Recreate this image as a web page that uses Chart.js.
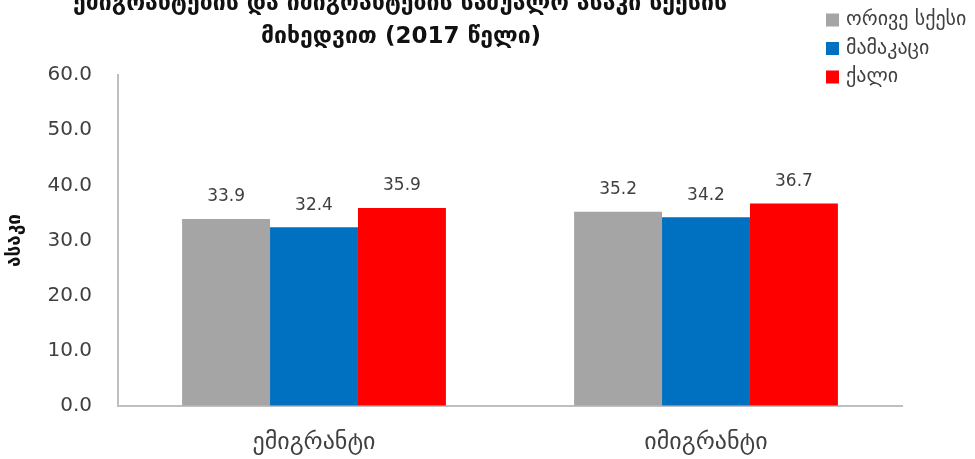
<!DOCTYPE html>
<html>
<head>
<meta charset="utf-8">
<script src="https://cdn.jsdelivr.net/npm/chart.js@4"></script>
<style>
  html, body { margin: 0; padding: 0; background: #ffffff; }
  #wrap { position: relative; width: 975px; height: 459px; }
</style>
</head>
<body>
<div id="wrap"><canvas id="c" width="975" height="459"></canvas></div>
<script>
const titleLines = ['ემიგრანტების და იმიგრანტების საშუალო ასაკი სქესის', 'მიხედვით (2017 წელი)'];
const yAxisTitle = 'ასაკი';
const categories = ['ემიგრანტი', 'იმიგრანტი'];
const seriesNames = ['ორივე სქესი', 'მამაკაცი', 'ქალი'];
const bothSexes = [33.9, 35.2];
const males = [32.4, 34.2];
const females = [35.9, 36.7];
const yTicks = [0, 10, 20, 30, 40, 50, 60];
const colors = ['#A5A5A5', '#0070C0', '#FF0000'];

const FONT = '"DejaVu Sans", "Noto Sans", sans-serif';
const TEXT = '#404040';

const titlePlugin = {
  id: 'customTitle',
  afterDraw(chart) {
    const ctx = chart.ctx;
    ctx.save();
    ctx.font = 'bold 23px ' + FONT;
    ctx.fillStyle = '#111111';
    ctx.textAlign = 'center';
    ctx.textBaseline = 'middle';
    ctx.fillText(titleLines[0], 400, 4);
    ctx.fillText(titleLines[1], 401, 37);
    ctx.restore();
  }
};

const legendPlugin = {
  id: 'customLegend',
  afterDraw(chart) {
    const ctx = chart.ctx;
    ctx.save();
    ctx.font = '20px ' + FONT;
    ctx.textAlign = 'left';
    ctx.textBaseline = 'middle';
    chart.data.datasets.forEach((ds, i) => {
      const cy = 20 + i * 28.5;
      ctx.fillStyle = ds.backgroundColor;
      ctx.fillRect(826, cy - 6.5, 13, 13);
      ctx.fillStyle = TEXT;
      ctx.fillText(ds.label, 846, cy);
    });
    ctx.restore();
  }
};

const valueLabels = {
  id: 'valueLabels',
  afterDatasetsDraw(chart) {
    const ctx = chart.ctx;
    ctx.save();
    ctx.font = '17px ' + FONT;
    ctx.fillStyle = TEXT;
    ctx.textAlign = 'center';
    ctx.textBaseline = 'middle';
    chart.data.datasets.forEach((ds, i) => {
      const meta = chart.getDatasetMeta(i);
      meta.data.forEach((bar, j) => {
        ctx.fillText(ds.data[j].toFixed(1), bar.x, bar.y - 22);
      });
    });
    ctx.restore();
  }
};

new Chart(document.getElementById('c'), {
  type: 'bar',
  data: {
    labels: categories,
    datasets: [
      { label: seriesNames[0], data: bothSexes, backgroundColor: colors[0] },
      { label: seriesNames[1], data: males, backgroundColor: colors[1] },
      { label: seriesNames[2], data: females, backgroundColor: colors[2] }
    ]
  },
  options: {
    responsive: false,
    animation: false,
    devicePixelRatio: 1,
    layout: { padding: { top: 75, right: 73, bottom: 0, left: 0 } },
    datasets: { bar: { categoryPercentage: 0.673, barPercentage: 1.0 } },
    plugins: {
      legend: { display: false },
      title: { display: false },
      tooltip: { enabled: false }
    },
    scales: {
      x: {
        grid: { display: true, drawOnChartArea: false, drawTicks: false },
        border: { display: true, color: '#BFBFBF', width: 2 },
        ticks: { color: TEXT, font: { family: FONT, size: 24 }, padding: 22 },
        afterFit(scale) { scale.height = 459 - 406; }
      },
      y: {
        min: 0,
        max: 60,
        afterBuildTicks(scale) { scale.ticks = yTicks.map(v => ({ value: v })); },
        grid: { display: true, drawOnChartArea: false, drawTicks: false },
        border: { display: true, color: '#BFBFBF', width: 2 },
        ticks: {
          color: TEXT,
          font: { family: FONT, size: 20 },
          padding: 26,
          callback: (v) => Number(v).toFixed(1)
        },
        title: {
          display: true,
          text: yAxisTitle,
          color: '#111111',
          font: { family: FONT, size: 19, weight: 'bold' },
          padding: { top: 4, bottom: 0 }
        },
        afterFit(scale) { scale.width = 118; }
      }
    }
  },
  plugins: [titlePlugin, legendPlugin, valueLabels]
});
</script>
</body>
</html>
